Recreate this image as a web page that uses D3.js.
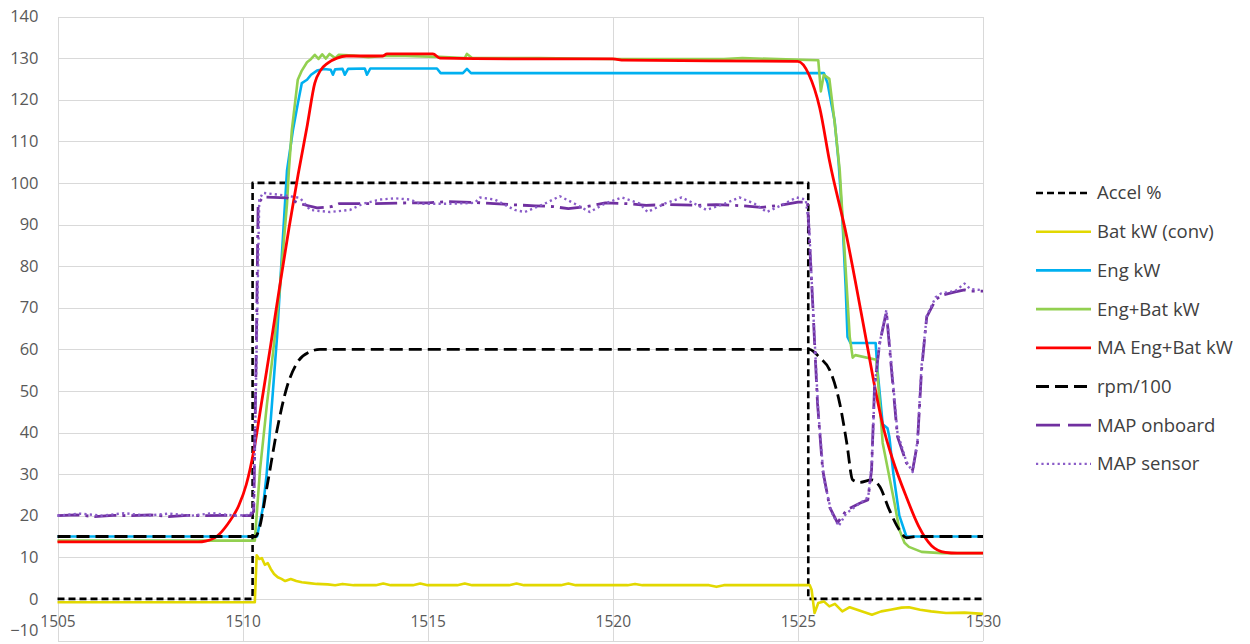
<!DOCTYPE html>
<html>
<head>
<meta charset="utf-8">
<script src="https://cdn.jsdelivr.net/npm/d3@7"></script>
<style>
  html, body { margin: 0; padding: 0; background: #fff; }
  svg { display: block; }
  .tick text { font-family: "Open Sans", sans-serif; fill: #595959; }
</style>
</head>
<body>
<svg id="chart" width="1250" height="644"></svg>
<script>
// Time axis range and tick labels
const xDomain = [1505, 1530];
const xTicks = [1505, 1510, 1515, 1520, 1525, 1530];
const yDomain = [-10, 140];
const yTicks = [-10, 0, 10, 20, 30, 40, 50, 60, 70, 80, 90, 100, 110, 120, 130, 140];

// Series: [time, value]
const accel = [[1505,0],[1510.27,0],[1510.27,100],[1525.28,100],[1525.28,0],[1530,0]];

const batKw = [[1505,-0.8],[1510.33,-0.8],[1510.38,10.5],[1510.45,9.6],[1510.52,9.8],[1510.6,8.2],[1510.68,8.6],
  [1510.76,7.2],[1510.85,6.0],[1510.95,5.2],[1511.05,4.8],[1511.15,4.3],[1511.3,4.8],[1511.45,4.3],[1511.6,4.0],
  [1511.8,3.8],[1512.0,3.6],[1512.3,3.5],[1512.5,3.3],[1512.7,3.6],[1513,3.3],[1513.6,3.3],[1513.8,3.7],[1514,3.3],
  [1514.6,3.3],[1514.8,3.7],[1515,3.3],[1515.8,3.3],[1516,3.7],[1516.2,3.3],[1517.2,3.3],[1517.4,3.7],[1517.6,3.3],
  [1518.6,3.3],[1518.8,3.7],[1519,3.3],[1520.4,3.3],[1520.6,3.6],[1520.8,3.3],[1522.6,3.3],[1522.8,2.9],[1523,3.3],
  [1525.32,3.3],[1525.37,2.2],[1525.45,-3.4],[1525.55,-1.0],[1525.7,-0.6],[1525.85,-1.8],[1526.0,-1.2],[1526.2,-3.0],
  [1526.4,-2.0],[1526.6,-2.6],[1526.8,-3.2],[1527.0,-3.8],[1527.25,-3.0],[1527.5,-2.6],[1527.8,-2.1],[1528.0,-2.0],
  [1528.3,-2.6],[1528.6,-3.0],[1529.0,-3.4],[1529.5,-3.3],[1530,-3.6]];

const engKw = [[1505,15],[1510.39,15],[1510.55,22],[1510.65,30],[1510.74,40.6],[1510.93,63],[1511.09,87],[1511.2,103],
  [1511.36,112.7],[1511.49,119],[1511.6,124],[1511.74,124.8],[1511.85,126],[1512.01,127],[1512.2,127.4],[1512.38,127.2],
  [1512.44,126],[1512.5,127.3],[1512.7,127.4],[1512.76,126],[1512.85,127.4],[1513.3,127.5],[1513.36,126],[1513.45,127.5],
  [1515.25,127.5],[1515.35,126.4],[1515.95,126.4],[1516.06,127.4],[1516.17,126.4],[1525.7,126.4],[1525.8,124],
  [1525.99,115],[1526.1,105],[1526.21,90],[1526.29,75],[1526.34,63],[1526.42,61.5],[1527.1,61.5],[1527.15,55],
  [1527.29,42],[1527.42,41],[1527.47,39],[1527.58,30],[1527.74,20],[1527.93,15],[1530,15]];

const engBatKw = [[1505,14],[1510.33,14],[1510.47,31],[1510.66,47],[1510.82,59],[1511.01,75],[1511.2,95],[1511.25,103],
  [1511.33,112.7],[1511.49,124.8],[1511.6,127],[1511.74,129],[1511.85,129.8],[1511.95,130.8],[1512.05,129.8],
  [1512.15,130.9],[1512.25,129.9],[1512.35,131],[1512.5,130],[1512.6,130.8],[1513,130.6],[1513.4,130.2],[1513.8,130.5],
  [1514.4,130.5],[1515.3,130.3],[1516.0,130],[1516.06,131],[1516.2,130],[1518,130],[1520,129.8],[1523,129.8],
  [1523.5,130],[1525.55,129.5],[1525.62,122],[1525.7,126],[1525.85,125],[1526.0,114],[1526.13,103],[1526.4,63],
  [1526.48,58],[1526.55,58.6],[1527.12,57.5],[1527.29,37.5],[1527.61,23],[1527.74,16.6],[1527.88,13.5],[1528.0,12.5],
  [1528.34,11.3],[1528.88,11],[1530,11]];

const maEngBatKw = [[1505,13.7],[1508.8,13.7],[1509.0,13.9],[1509.3,15],[1509.6,18],[1509.9,22.5],[1510.1,27.5],
  [1510.3,35.5],[1510.5,46.5],[1510.75,60.5],[1511.0,75],[1511.25,89],[1511.5,102],[1511.75,114],[1511.95,124],
  [1512.1,127],[1512.3,128.8],[1512.55,130],[1512.8,130.5],[1513.79,130.5],[1513.9,131],[1515.14,131],[1515.33,130],
  [1517.5,129.8],[1520,129.8],[1520.3,129.5],[1525.0,129.2],[1525.3,126],[1525.59,118],[1525.86,105],[1526.32,87],
  [1526.58,75],[1526.86,61.5],[1527.12,49],[1527.3,41.5],[1527.56,33.5],[1527.93,24.5],[1528.26,17.5],[1528.61,12.8],
  [1528.98,11.2],[1529.3,11],[1530,11]];

const rpm100 = [[1505,15],[1510.35,15],[1510.44,16.6],[1510.66,27],[1510.93,40.6],[1511.2,51],[1511.47,56.7],
  [1511.82,59.4],[1512.09,60],[1525.31,60],[1525.59,58],[1525.86,55],[1526.13,47],[1526.32,37.5],[1526.48,28.6],
  [1526.67,28],[1526.99,28.6],[1527.21,27],[1527.47,21.4],[1527.74,16.6],[1527.93,14.7],[1528.2,15],[1530,15]];

const mapOnboard = [[1505,20],[1505.5,20.2],[1506,19.8],[1506.5,20.1],[1507,20],[1507.5,20.2],[1508,19.8],[1508.5,20.1],
  [1509,20],[1509.5,20.1],[1510.2,20],[1510.3,21],[1510.37,60],[1510.42,95],[1510.55,96.6],[1511.2,96.4],[1511.55,95],
  [1512.01,94],[1512.4,94.3],[1512.6,95],[1513.5,95],[1514.5,95.2],[1515,95.2],[1515.5,95.5],[1516.3,95.3],[1516.8,95],
  [1517.4,94.7],[1517.9,94.5],[1518.4,94.3],[1518.8,93.8],[1519.3,94.3],[1519.8,95.2],[1520.4,95],[1520.9,94.6],
  [1521.5,94.8],[1522.3,94.6],[1522.8,94.8],[1523.5,94.5],[1524,94.1],[1524.5,94.6],[1525.0,95.4],[1525.26,95.4],
  [1525.4,71],[1525.53,47],[1525.67,31],[1525.86,22],[1526.07,18.3],[1526.32,21.4],[1526.67,23],[1526.89,23.8],
  [1526.99,31],[1527.07,51],[1527.21,61.5],[1527.39,69],[1527.53,55],[1527.69,39],[1527.93,32.7],[1528.1,31],
  [1528.23,37.5],[1528.34,55],[1528.48,67.8],[1528.72,71.9],[1528.88,73],[1529.25,73.8],[1529.5,74.3],[1529.66,74],
  [1530,74]];

const mapSensor = [[1505,20],[1505.6,20.5],[1506.2,20],[1506.8,20.6],[1507.4,20],[1508,20.5],[1508.6,20],[1509.2,20.6],
  [1509.8,20],[1510.2,20.2],[1510.3,22],[1510.38,60],[1510.45,96],[1510.55,97.6],[1511.14,97],[1511.55,96.4],
  [1511.82,93.5],[1512.36,93],[1512.9,93.5],[1513.25,95],[1513.71,96],[1514.11,96.3],[1514.52,96],[1514.79,95],
  [1515.6,95],[1516.27,95.2],[1516.41,96.5],[1516.81,96],[1517.35,93.5],[1517.62,93],[1518.16,95],[1518.57,96.8],
  [1518.97,95],[1519.38,93],[1519.78,95],[1520.24,96.5],[1520.73,95],[1520.94,93],[1521.4,95],[1521.86,96.5],
  [1522.21,95],[1522.53,93.5],[1523.02,95],[1523.42,96.5],[1523.83,95],[1524.16,93],[1524.64,95],[1524.96,96.5],
  [1525.21,96],[1525.3,90],[1525.42,68],[1525.55,45],[1525.7,29],[1525.9,21],[1526.1,17.5],[1526.3,20.5],
  [1526.6,22.5],[1526.9,24.5],[1527.0,33],[1527.08,52],[1527.22,62],[1527.39,69.5],[1527.53,56],[1527.69,40],
  [1527.93,33],[1528.1,30.5],[1528.23,38],[1528.34,56],[1528.48,68],[1528.72,72.5],[1528.88,73.5],[1529.25,74],
  [1529.5,75.8],[1529.66,74.5],[1530,74.2]];

const seriesNames = ["Accel %", "Bat kW (conv)", "Eng kW", "Eng+Bat kW", "MA Eng+Bat kW", "rpm/100", "MAP onboard", "MAP sensor"];
const seriesData = [accel, batKw, engKw, engBatKw, maEngBatKw, rpm100, mapOnboard, mapSensor];

// Stroke styles per series (keyDash is the pattern used for the short legend sample)
const styles = [
  { color: "#000000", dash: "7,4",      keyDash: "7,4",     width: 2.6, curve: d3.curveLinear },
  { color: "#e2d800", dash: null,       keyDash: null,      width: 2.6, curve: d3.curveLinear },
  { color: "#00b0f0", dash: null,       keyDash: null,      width: 2.6, curve: d3.curveLinear },
  { color: "#92d050", dash: null,       keyDash: null,      width: 2.6, curve: d3.curveLinear },
  { color: "#ff0000", dash: null,       keyDash: null,      width: 2.8, curve: d3.curveMonotoneX },
  { color: "#000000", dash: "13,6",     keyDash: "13,6",    width: 2.8, curve: d3.curveMonotoneX },
  { color: "#7030a0", dash: "22,6,3,6", keyDash: "24,8",    width: 2.8, curve: d3.curveLinear },
  { color: "#8a5cc8", dash: "2.2,3.2",  keyDash: "2.2,3.2", width: 2.4, curve: d3.curveLinear }
];

const svg = d3.select("#chart");
const plot = { left: 57.5, right: 983, top: 16.5, bottom: 640.5 };

const x = d3.scaleLinear().domain(xDomain).range([plot.left, plot.right]);
const y = d3.scaleLinear().domain(yDomain).range([plot.bottom, plot.top]);

// Horizontal gridlines and value labels
const yAxis = svg.append("g")
  .attr("transform", `translate(${plot.left},0)`)
  .call(d3.axisLeft(y).tickValues(yTicks).tickSize(-(plot.right - plot.left)).tickPadding(19).tickFormat(d3.format("d")));
yAxis.select(".domain").remove();
yAxis.selectAll(".tick line").attr("stroke", "#d9d9d9").attr("stroke-width", 1).attr("shape-rendering", "crispEdges");
yAxis.selectAll(".tick text").attr("font-size", 16.5);
// keep the lowest label inside the canvas
yAxis.selectAll(".tick text").filter(d => d === -10).attr("dy", "-0.3em");

// Vertical gridlines
const xGrid = svg.append("g")
  .attr("transform", `translate(0,${plot.bottom})`)
  .call(d3.axisBottom(x).tickValues(xTicks).tickSize(-(plot.bottom - plot.top)).tickFormat(""));
xGrid.select(".domain").remove();
xGrid.selectAll(".tick line").attr("stroke", "#d9d9d9").attr("stroke-width", 1).attr("shape-rendering", "crispEdges");

// Time labels sit just under the zero line
const xAxis = svg.append("g")
  .attr("transform", `translate(0,${y(0)})`)
  .call(d3.axisBottom(x).tickValues(xTicks).tickSize(0).tickPadding(17).tickFormat(d3.format("d")));
xAxis.select(".domain").remove();
xAxis.selectAll(".tick text").attr("font-size", 15.5);

// Series lines
const lines = svg.append("g");
seriesData.forEach((data, i) => {
  const st = styles[i];
  const line = d3.line().x(d => x(d[0])).y(d => y(d[1])).curve(st.curve);
  lines.append("path")
    .datum(data)
    .attr("d", line)
    .attr("fill", "none")
    .attr("stroke", st.color)
    .attr("stroke-width", st.width)
    .attr("stroke-dasharray", st.dash)
    .attr("stroke-linejoin", "round");
});

// Legend
const legend = svg.append("g").attr("transform", "translate(1036,193)");
seriesNames.forEach((name, i) => {
  const st = styles[i];
  const g = legend.append("g").attr("transform", `translate(0,${i * 38.7})`);
  g.append("line")
    .attr("x1", 0).attr("x2", 55).attr("y1", 0).attr("y2", 0)
    .attr("stroke", st.color)
    .attr("stroke-width", st.width)
    .attr("stroke-dasharray", st.keyDash);
  g.append("text")
    .attr("x", 61).attr("y", 0).attr("dy", "0.35em")
    .attr("font-family", "Open Sans, sans-serif")
    .attr("font-size", 18.5)
    .attr("fill", "#404040")
    .text(name);
});
</script>
</body>
</html>
